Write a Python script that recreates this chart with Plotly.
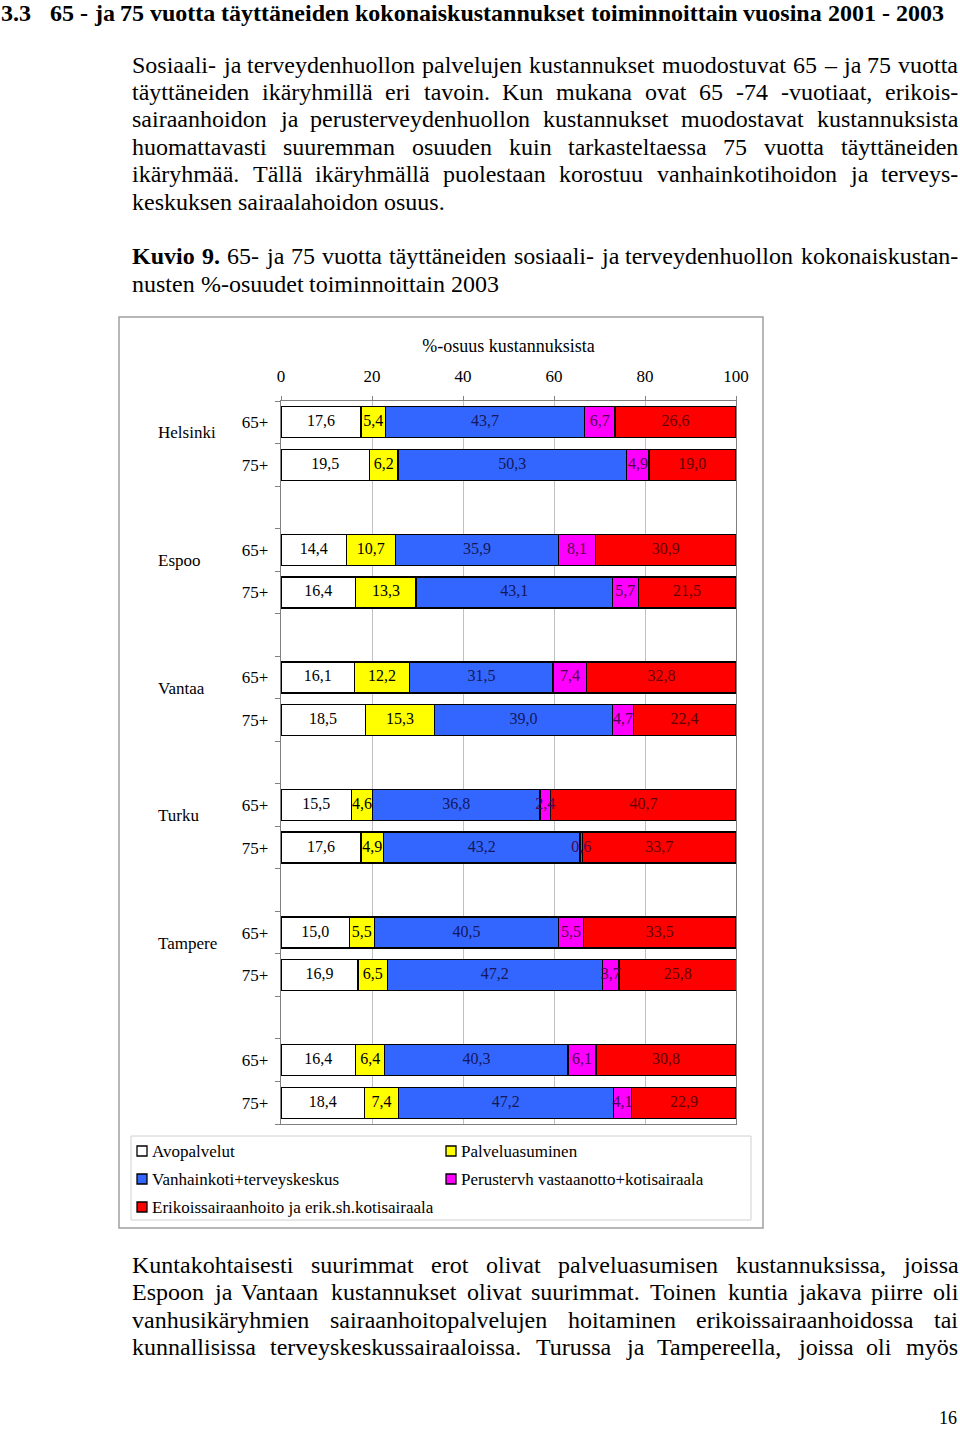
import plotly.graph_objects as go

# ---------------- data ----------------
cities = ["Helsinki", "Espoo", "Vantaa", "Turku", "Tampere", ""]
ages = ["65+", "75+"]
series_names = ["Avopalvelut", "Palveluasuminen", "Vanhainkoti+terveyskeskus",
                "Perustervh vastaanotto+kotisairaala",
                "Erikoissairaanhoito ja erik.sh.kotisairaala"]
series_colors = ["#FFFFFF", "#FFFF00", "#3366FF", "#FF00FF", "#FF0000"]
text_colors = ["#000000", "#000000", "#14185A", "#500050", "#600000"]

# order: Helsinki 65+, Helsinki 75+, Espoo 65+, ...
avopalvelut = [17.6, 19.5, 14.4, 16.4, 16.1, 18.5, 15.5, 17.6, 15.0, 16.9, 16.4, 18.4]
palveluasuminen = [5.4, 6.2, 10.7, 13.3, 12.2, 15.3, 4.6, 4.9, 5.5, 6.5, 6.4, 7.4]
vanhainkoti = [43.7, 50.3, 35.9, 43.1, 31.5, 39.0, 36.8, 43.2, 40.5, 47.2, 40.3, 47.2]
perustervh = [6.7, 4.9, 8.1, 5.7, 7.4, 4.7, 2.4, 0.6, 5.5, 3.7, 6.1, 4.1]
erikois = [26.6, 19.0, 30.9, 21.5, 32.8, 22.4, 40.7, 33.7, 33.5, 25.8, 30.8, 22.9]
x_ticks = [0, 20, 40, 60, 80, 100]

series_values = [avopalvelut, palveluasuminen, vanhainkoti, perustervh, erikois]

# ---------------- page geometry (pixels) ----------------
W_FIG, H_FIG = 960, 1429
PL, PR, PT, PB = 281, 736, 401, 1124   # plot area


def px(x):
    return (x - PL) / (PR - PL)


def py(y):
    return (PB - y) / (PB - PT)


# ---------------- categories ----------------
row_keys = [f"{c}|{a}" for c in cities for a in ages]
category_order = []
for i, c in enumerate(cities):
    if i > 0:
        category_order.append(f"gap{i}")
    for a in ages:
        category_order.append(f"{c}|{a}")
tick_text = [k.split("|")[1] if "|" in k else "" for k in category_order]

fig = go.Figure()
for name, vals, col in zip(series_names, series_values, series_colors):
    fig.add_trace(go.Bar(
        y=row_keys, x=vals, orientation="h", name=name,
        marker=dict(color=col, line=dict(color="#000000", width=1.3)),
        hoverinfo="skip",
    ))

# value labels drawn on top of all bars (centred in each stacked segment)
starts = [0.0] * len(row_keys)
for vals, tcol in zip(series_values, text_colors):
    mids = [s + v / 2 for s, v in zip(starts, vals)]
    fig.add_trace(go.Scatter(
        y=row_keys, x=mids, mode="text",
        text=[f"{v:.1f}".replace(".", ",") for v in vals],
        textposition="middle center",
        textfont=dict(family="Liberation Serif", size=16, color=tcol),
        showlegend=False, hoverinfo="skip", cliponaxis=False,
    ))
    starts = [s + v for s, v in zip(starts, vals)]

# ---------------- text metrics (Times / Liberation Serif) ----------------
REG = {" ": 250, "%": 833, "+": 564, ",": 250, "-": 333, ".": 250, "–": 500, ":": 278}
for d in "0123456789":
    REG[d] = 500
REG.update(dict(A=722, B=667, C=667, D=722, E=611, F=556, G=722, H=722, I=333, J=389,
                K=722, L=611, M=889, N=722, O=722, P=556, Q=722, R=667, S=556, T=611,
                U=722, V=722, W=944, X=722, Y=722, Z=611))
REG.update(dict(a=444, b=500, c=444, d=500, e=444, f=333, g=500, h=500, i=278, j=278,
                k=500, l=278, m=778, n=500, o=500, p=500, q=500, r=333, s=389, t=278,
                u=500, v=500, w=722, x=500, y=500, z=444))
REG.update({"ä": 444, "ö": 500, "å": 444})
BOLD = dict(REG)
BOLD.update(dict(a=500, b=556, d=556, h=556, j=333, k=556, m=833, n=556, p=556, q=556,
                 r=444, t=333, u=556, K=778, S=556))
BOLD.update({"ä": 500, "%": 1000})


def tw(s, size, bold=False):
    m = BOLD if bold else REG
    return sum(m.get(ch, 500) for ch in s) * size / 1000.0


annotations = []


def add_word(text, x, y, size=24, bold=False, yanchor="middle"):
    annotations.append(dict(
        text=f"<b>{text}</b>" if bold else text, xref="paper", yref="paper",
        x=px(x), y=py(y), xanchor="left", yanchor=yanchor, showarrow=False,
        borderpad=0, borderwidth=0,
        font=dict(family="Liberation Serif", size=size, color="black")))


def add_line(tokens, y, x0=132, x1=958, size=24, justify=True, yanchor="middle"):
    # tokens: list of (word, bold)
    widths = [tw(w, size, b) for w, b in tokens]
    if justify and len(tokens) > 1:
        gap = (x1 - x0 - sum(widths)) / (len(tokens) - 1)
    else:
        gap = 250 * size / 1000.0
    x = x0
    for (w, b), wd in zip(tokens, widths):
        add_word(w, x, y, size, b, yanchor)
        x += wd + gap


def words(s, bold=False):
    return [(w, bold) for w in s.split()]


# header
add_word("3.3", 1, 0, 24, True, "top")
add_line(words("65 - ja 75 vuotta täyttäneiden kokonaiskustannukset toiminnoittain vuosina 2001 - 2003", True),
         0, x0=50, size=24, justify=False, yanchor="top")

para1 = [
    "Sosiaali- ja terveydenhuollon palvelujen kustannukset muodostuvat 65 – ja 75 vuotta",
    "täyttäneiden ikäryhmillä eri tavoin. Kun mukana ovat 65 -74 -vuotiaat, erikois-",
    "sairaanhoidon ja perusterveydenhuollon kustannukset muodostavat kustannuksista",
    "huomattavasti suuremman osuuden kuin tarkasteltaessa 75 vuotta täyttäneiden",
    "ikäryhmää. Tällä ikäryhmällä puolestaan korostuu vanhainkotihoidon ja terveys-",
    "keskuksen sairaalahoidon osuus.",
]
para1_y = [65, 92, 119, 147, 174, 202]
for i, (s, y) in enumerate(zip(para1, para1_y)):
    add_line(words(s), y, justify=(i < len(para1) - 1))

add_line(words("Kuvio 9.", True) + words("65- ja 75 vuotta täyttäneiden sosiaali- ja terveydenhuollon kokonaiskustan-"), 256)
add_line(words("nusten %-osuudet toiminnoittain 2003"), 284, justify=False)

para2 = [
    "Kuntakohtaisesti suurimmat erot olivat palveluasumisen kustannuksissa, joissa",
    "Espoon ja Vantaan kustannukset olivat suurimmat. Toinen kuntia jakava piirre oli",
    "vanhusikäryhmien sairaanhoitopalvelujen hoitaminen erikoissairaanhoidossa tai",
    "kunnallisissa terveyskeskussairaaloissa. Turussa ja Tampereella, joissa oli myös",
]
para2_y = [1265, 1292, 1320, 1347]
for s, y in zip(para2, para2_y):
    add_line(words(s), y)

add_word("16", 939, 1428, 18, yanchor="bottom")

# city labels
for i, c in enumerate(cities):
    if c:
        annotations.append(dict(
            text=c, xref="paper", yref="y", x=px(158), y=category_order.index(f"{c}|65+") + 0.25,
            xanchor="left", yanchor="middle", showarrow=False, borderpad=0, borderwidth=0,
            font=dict(family="Liberation Serif", size=17, color="black")))

# legend (manual)
shapes = []
legend_pos = [(137, 1151), (446, 1151), (137, 1179), (446, 1179), (137, 1207)]
for name, col, (lx, ly) in zip(series_names, series_colors, legend_pos):
    shapes.append(dict(type="rect", xref="paper", yref="paper",
                       x0=px(lx), x1=px(lx + 10), y0=py(ly + 5), y1=py(ly - 5),
                       fillcolor=col, line=dict(color="black", width=1.3)))
    annotations.append(dict(
        text=name, xref="paper", yref="paper", x=px(lx + 15), y=py(ly),
        xanchor="left", yanchor="middle", showarrow=False, borderpad=0, borderwidth=0,
        font=dict(family="Liberation Serif", size=17, color="black")))

# frames
shapes.append(dict(type="rect", xref="paper", yref="paper", layer="below",
                   x0=px(119), x1=px(763), y0=py(1228), y1=py(317),
                   line=dict(color="#A0A0A0", width=1.5), fillcolor="rgba(0,0,0,0)"))
shapes.append(dict(type="rect", xref="paper", yref="paper", layer="below",
                   x0=px(131), x1=px(751), y0=py(1220), y1=py(1136),
                   line=dict(color="#D0D0D0", width=1), fillcolor="rgba(0,0,0,0)"))

fig.update_layout(
    width=W_FIG, height=H_FIG,
    margin=dict(l=PL, r=W_FIG - PR, t=PT, b=H_FIG - PB, autoexpand=False),
    barmode="stack", bargap=0.27,
    plot_bgcolor="white", paper_bgcolor="white", showlegend=False,
    font=dict(family="Liberation Serif", color="black", size=17),
    annotations=annotations, shapes=shapes,
    xaxis=dict(range=[0, 100], side="top", tickmode="array", tickvals=x_ticks,
               showgrid=True, gridcolor="#C0C0C0", gridwidth=1, zeroline=False,
               showline=True, linecolor="#808080", linewidth=1.3, mirror=True,
               ticks="outside", ticklen=4, tickcolor="#808080",
               tickfont=dict(size=17), ticklabelstandoff=7,
               title=dict(text="%-osuus kustannuksista", font=dict(size=18), standoff=9)),
    yaxis=dict(type="category", categoryorder="array", categoryarray=category_order,
               range=[len(category_order) - 0.5, -0.5],
               tickmode="array", tickvals=category_order, ticktext=tick_text,
               tickson="boundaries", ticks="outside", ticklen=5, tickcolor="#808080",
               showgrid=False, zeroline=False, showline=True, linecolor="#808080",
               linewidth=1.3, mirror=True, tickfont=dict(size=17), ticklabelstandoff=8),
)

fig.write_html(
    "out.html",
    config={"displayModeBar": False},
    post_script="document.body.style.margin='0';document.documentElement.style.margin='0';"
                "document.body.style.overflow='hidden';",
)
